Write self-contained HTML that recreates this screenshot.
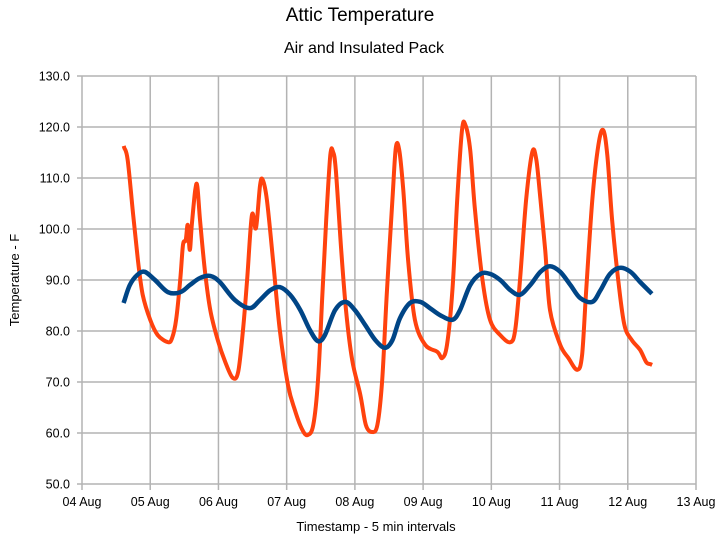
<!DOCTYPE html>
<html><head><meta charset="utf-8"><style>
html,body{margin:0;padding:0;background:#fff;}
svg{display:block;font-family:"Liberation Sans",sans-serif;}
</style></head><body>
<svg id="chart" width="721" height="541" viewBox="0 0 721 541" xmlns="http://www.w3.org/2000/svg">
<text x="360" y="21" font-size="19" text-anchor="middle" fill="#000">Attic Temperature</text>
<text x="364" y="53" font-size="16" text-anchor="middle" fill="#000">Air and Insulated Pack</text>
<g id="grid"></g>
<g id="series"></g>
<text transform="translate(19,280) rotate(-90)" font-size="13" text-anchor="middle" fill="#000">Temperature - F</text>
<text x="376" y="531" font-size="13" text-anchor="middle" fill="#000">Timestamp - 5 min intervals</text>
</svg>
<script>
const xTickLabels = ["04 Aug","05 Aug","06 Aug","07 Aug","08 Aug","09 Aug","10 Aug","11 Aug","12 Aug","13 Aug"];
const yTicks = [50,60,70,80,90,100,110,120,130];
// days since 04 Aug 00:00
const airDays = [0.62,0.67,0.75,0.82,0.89,1.00,1.11,1.26,1.32,1.38,1.44,1.48,1.52,1.55,1.58,1.61,1.66,1.69,1.73,1.80,1.88,1.99,2.10,2.21,2.29,2.36,2.42,2.49,2.55,2.61,2.65,2.71,2.80,2.90,3.02,3.12,3.23,3.31,3.39,3.46,3.52,3.58,3.64,3.68,3.72,3.80,3.87,3.96,4.08,4.16,4.25,4.33,4.40,4.47,4.55,4.60,4.65,4.71,4.78,4.88,5.03,5.21,5.28,5.35,5.43,5.50,5.57,5.62,5.69,5.76,5.87,5.98,6.13,6.28,6.35,6.42,6.51,6.60,6.66,6.72,6.79,6.86,7.01,7.13,7.26,7.33,7.39,7.48,7.57,7.64,7.70,7.77,7.86,7.95,8.06,8.18,8.27,8.33];
const airTemps = [115.9,113.5,102.7,93.9,87.1,82.2,79.2,77.8,78.6,82.2,90.0,96.9,97.8,100.8,95.9,100.8,107.6,108.4,101.8,92.0,84.1,78.2,73.9,70.8,72.0,80.2,90.0,102.7,100.2,108.6,109.6,105.7,93.9,80.2,69.4,64.5,60.6,59.6,61.6,70.4,86.1,101.8,114.5,115.1,111.6,95.9,84.1,74.3,67.5,61.6,60.2,61.6,70.4,88.0,105.7,115.9,115.5,107.6,93.9,82.2,77.3,75.9,74.7,77.3,88.0,105.7,119.4,120.4,115.5,103.7,90.0,82.2,79.2,77.8,80.2,90.0,105.7,115.1,113.5,105.7,95.9,84.1,77.3,74.7,72.4,75.3,88.0,105.7,116.5,119.4,114.5,101.8,90.0,81.2,78.2,76.3,73.9,73.5];
const packDays = [0.62,0.70,0.81,0.92,1.07,1.26,1.44,1.58,1.73,1.88,2.02,2.24,2.46,2.61,2.76,2.90,3.05,3.20,3.34,3.46,3.56,3.71,3.86,4.00,4.15,4.30,4.44,4.55,4.66,4.81,4.96,5.10,5.25,5.43,5.54,5.69,5.84,5.98,6.13,6.28,6.42,6.57,6.72,6.86,7.01,7.16,7.30,7.48,7.60,7.74,7.89,8.04,8.18,8.33];
const packTemps = [85.9,89.0,91.0,91.6,90.0,87.6,87.6,89.0,90.4,90.8,89.6,86.1,84.5,86.1,88.0,88.6,87.1,84.1,80.2,78.0,79.2,84.1,85.7,84.1,81.2,78.2,76.7,78.2,82.5,85.5,85.7,84.5,83.1,82.2,84.1,89.0,91.2,91.2,90.0,88.0,87.1,89.0,91.6,92.7,91.6,89.0,86.5,85.7,88.0,91.2,92.4,91.6,89.6,87.6];

const NS="http://www.w3.org/2000/svg";
const X0=82, X1=696, Y0=484, Y1=76;
function xScale(d){return X0+(X1-X0)*d/9;}
function yScale(t){return Y0-(Y0-Y1)*(t-50)/80;}
const grid=document.getElementById('grid');
function mk(tag,attrs,parent){const e=document.createElementNS(NS,tag);for(const k in attrs)e.setAttribute(k,attrs[k]);parent.appendChild(e);return e;}
yTicks.forEach(function(t){
  const y=yScale(t);
  const l=mk('line',{x1:X0-5,x2:X1,y1:y,y2:y,stroke:'#b3b3b3','stroke-width':1.5},grid);
  
  
  const tx=mk('text',{x:X0-12,y:y+4.5,'font-size':12.5,'text-anchor':'end',fill:'#000'},grid);
  tx.textContent=t.toFixed(1);
  
  
});
xTickLabels.forEach(function(lab,i){
  const x=xScale(i);
  const l=mk('line',{x1:x,x2:x,y1:Y1,y2:Y0+6,stroke:'#b3b3b3','stroke-width':1.5},grid);
  
  
  const tx=mk('text',{x:x,y:Y0+22,'font-size':12.5,'text-anchor':'middle',fill:'#000'},grid);
  tx.textContent=lab;
  
  
});
const ser=document.getElementById('series');
function pathFor(days,temps){
  const p=days.map(function(d,i){return [xScale(d),yScale(temps[i])];});
  let s='M'+p[0][0].toFixed(1)+','+p[0][1].toFixed(1);
  for(let i=0;i<p.length-1;i++){
    const a=p[Math.max(0,i-1)],b=p[i],c=p[i+1],e=p[Math.min(p.length-1,i+2)];
    const c1x=b[0]+(c[0]-a[0])/6,c1y=b[1]+(c[1]-a[1])/6;
    const c2x=c[0]-(e[0]-b[0])/6,c2y=c[1]-(e[1]-b[1])/6;
    s+='C'+c1x.toFixed(1)+','+c1y.toFixed(1)+' '+c2x.toFixed(1)+','+c2y.toFixed(1)+' '+c[0].toFixed(1)+','+c[1].toFixed(1);
  }
  return s;
}
const air=mk('path',{d:pathFor(airDays,airTemps),fill:'none',stroke:'#ff420e','stroke-width':4,'stroke-linejoin':'round','stroke-linecap':'square'},ser);


const pack=mk('path',{d:pathFor(packDays,packTemps),fill:'none',stroke:'#004586','stroke-width':4.5,'stroke-linejoin':'round','stroke-linecap':'square'},ser);


</script>
</body></html>
